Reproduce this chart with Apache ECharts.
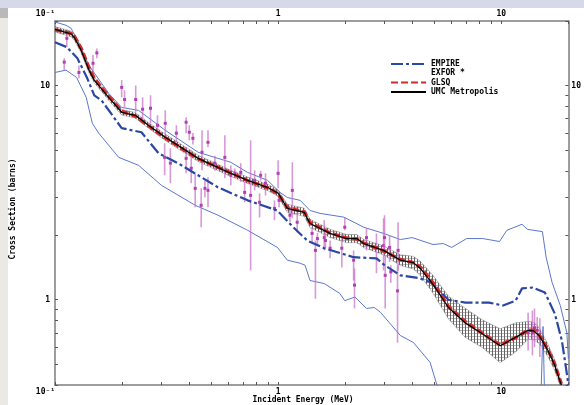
<!DOCTYPE html>
<html>
<head>
<meta charset="utf-8">
<script src="https://cdn.jsdelivr.net/npm/echarts/dist/echarts.min.js"></script>
<style>
html, body { margin: 0; padding: 0; background: #fff; }
#main { width: 584px; height: 405px; }
</style>
</head>
<body>
<div id="main"></div>
<script>
// UMC Metropolis (mean curve + relative uncertainty)
var umcE = [0.1, 0.118, 0.122, 0.131, 0.142, 0.150, 0.174, 0.199, 0.229, 0.262, 0.312, 0.438, 0.60, 0.73, 0.90, 1.0,
  1.10, 1.31, 1.39, 1.71, 2.03, 2.25, 2.42, 2.97, 3.53, 4.04, 4.34, 4.95, 5.8, 6.9, 8.2, 9.9, 11.6, 13.2, 14.0, 14.8,
  16.2, 17.3, 17.9, 18.6];
var umcVal = [18.3, 17.4, 16.8, 14.6, 11.8, 10.6, 8.8, 7.5, 7.26, 6.52, 5.73, 4.57, 3.93, 3.61, 3.34, 3.14,
  2.67, 2.56, 2.27, 2.04, 1.93, 1.93, 1.83, 1.70, 1.53, 1.49, 1.40, 1.18, 0.92, 0.78, 0.696, 0.61, 0.667, 0.72, 0.715, 0.68,
  0.58, 0.50, 0.45, 0.40];
var umcErr = [0.03, 0.03, 0.03, 0.03, 0.03, 0.03, 0.03, 0.03, 0.03, 0.03, 0.035, 0.035, 0.035, 0.035, 0.035, 0.035,
  0.045, 0.045, 0.045, 0.045, 0.045, 0.045, 0.045, 0.05, 0.06, 0.07, 0.08, 0.10, 0.13, 0.17, 0.16, 0.20, 0.17, 0.10, 0.10, 0.09,
  0.07, 0.06, 0.05, 0.04];

// GLSQ
var glsqE = umcE;
var glsqVal = [18.2, 17.5, 17.0, 14.9, 12.1, 10.8, 8.9, 7.6, 7.2, 6.5, 5.7, 4.55, 3.95, 3.6, 3.33, 3.12,
  2.69, 2.57, 2.29, 2.05, 1.94, 1.92, 1.84, 1.69, 1.54, 1.49, 1.42, 1.2, 0.93, 0.79, 0.70, 0.615, 0.665, 0.72, 0.72, 0.685,
  0.585, 0.505, 0.455, 0.405];

// EMPIRE
var empE = [0.1, 0.113, 0.126, 0.139, 0.150, 0.162, 0.199, 0.244, 0.291, 0.357, 0.438, 0.537, 0.73, 0.99, 1.16, 1.35,
  1.61, 2.18, 2.76, 3.0, 3.53, 4.3, 4.8, 5.8, 6.9, 8.8, 10.2, 11.6, 12.4, 13.8, 15.7, 17.4, 18.7, 19.7, 20];
var empVal = [15.9, 15.1, 13.4, 10.9, 9.0, 8.5, 6.32, 6.05, 4.83, 4.33, 3.81, 3.35, 2.91, 2.61, 2.20, 1.89,
  1.74, 1.58, 1.56, 1.45, 1.30, 1.26, 1.21, 1.0, 0.97, 0.97, 0.94, 0.99, 1.13, 1.14, 1.08, 0.86, 0.645, 0.45, 0.40];

// thin envelope lines
var upE = [0.1, 0.112, 0.118, 0.128, 0.142, 0.174, 0.199, 0.237, 0.312, 0.438, 0.614, 0.730, 0.896, 1.02, 1.10, 1.256,
  1.39, 1.54, 1.97, 2.42, 2.97, 3.53, 3.99, 4.95, 5.49, 6.0, 7.0, 8.26, 9.83, 10.6, 12.4, 13.1, 15.3, 15.9, 16.9, 18.4,
  19.7, 20];
var upVal = [19.8, 19.1, 18.5, 15.8, 12.4, 9.2, 7.9, 7.65, 6.18, 4.88, 4.38, 3.93, 3.61, 3.17, 3.0, 2.91,
  2.61, 2.53, 2.43, 2.18, 2.04, 1.91, 1.95, 1.81, 1.83, 1.755, 1.93, 1.93, 1.87, 2.11, 2.25, 2.13, 2.08, 1.58, 1.205, 0.94,
  0.70, 0.53];
var lowE = [0.1, 0.112, 0.125, 0.138, 0.147, 0.157, 0.193, 0.237, 0.300, 0.425, 0.538, 0.730, 0.993, 1.10, 1.256, 1.32,
  1.39, 1.61, 1.89, 1.99, 2.21, 2.49, 2.70, 2.88, 3.53, 4.04, 4.80, 5.15, 5.4, 15.0, 15.4, 15.7];
var lowVal = [11.5, 11.8, 10.9, 8.8, 6.66, 5.99, 4.62, 4.24, 3.42, 2.76, 2.48, 2.11, 1.755, 1.53, 1.48, 1.45,
  1.23, 1.19, 1.07, 0.99, 1.03, 0.911, 0.92, 0.872, 0.681, 0.632, 0.51, 0.40, 0.3, 0.3, 0.75, 0.3];

// EXFOR: [energy, value, low, high]
var exforPts = [
  [0.113, 16.6, 15.1, 17.55], [0.110, 12.85, 11.8, 13.4], [0.128, 11.5, 10.8, 12.4], [0.148, 12.7, 11.2, 13.86],
  [0.154, 14.2, 13.4, 14.9], [0.199, 9.8, 8.8, 10.6], [0.205, 8.6, 7.9, 9.5], [0.230, 8.6, 7.5, 10.0],
  [0.247, 7.75, 6.66, 8.8], [0.268, 7.83, 6.66, 9.0], [0.288, 6.52, 5.86, 7.26], [0.312, 6.66, 5.55, 7.66],
  [0.350, 5.99, 5.43, 6.52], [0.387, 6.74, 5.99, 7.11], [0.400, 6.05, 5.55, 6.52], [0.310, 4.62, 3.81, 5.38],
  [0.329, 4.34, 3.50, 5.09], [0.387, 4.57, 3.89, 5.15], [0.408, 4.11, 3.50, 4.98], [0.415, 5.67, 5.30, 6.00],
  [0.425, 3.31, 2.70, 3.89], [0.456, 4.88, 4.02, 6.18], [0.485, 5.43, 5.15, 6.18], [0.470, 3.31, 3.00, 3.60],
  [0.485, 3.24, 2.70, 3.73], [0.452, 2.76, 2.18, 3.31], [0.521, 4.34, 4.00, 4.70], [0.577, 4.62, 3.69, 5.86],
  [0.614, 3.81, 3.42, 4.24], [0.640, 3.89, 3.70, 4.10], [0.680, 3.93, 3.55, 4.34], [0.708, 3.17, 2.85, 3.55],
  [0.753, 3.07, 1.37, 5.55], [0.785, 3.61, 3.24, 4.02], [0.826, 2.85, 2.42, 3.14], [0.835, 3.81, 3.60, 4.00],
  [0.878, 3.50, 3.07, 3.89], [0.963, 2.67, 2.35, 2.91], [1.00, 3.89, 3.31, 4.48], [1.01, 2.91, 2.70, 3.10],
  [1.13, 2.48, 2.30, 2.70], [1.158, 3.24, 2.40, 4.38], [1.218, 2.30, 2.06, 2.56], [1.42, 2.04, 1.85, 2.18],
  [1.47, 1.70, 1.01, 1.89], [1.50, 1.93, 1.80, 2.05], [1.61, 1.95, 1.70, 2.35], [1.63, 1.89, 1.75, 2.05],
  [1.71, 1.74, 1.56, 1.89], [1.93, 1.74, 1.415, 2.04], [1.99, 2.18, 2.11, 2.42], [2.18, 1.53, 1.23, 1.70],
  [2.20, 1.17, 0.91, 1.40], [2.49, 1.95, 1.70, 2.15], [2.76, 1.755, 1.33, 2.04], [2.97, 1.79, 1.37, 2.40],
  [3.00, 1.95, 1.70, 2.48], [3.02, 1.30, 0.91, 1.60], [3.16, 1.755, 1.50, 2.00], [3.20, 1.35, 1.20, 1.45],
  [3.43, 1.10, 0.63, 1.45], [3.45, 1.70, 1.37, 2.30],
  [13.2, 0.70, 0.58, 0.87], [13.8, 0.70, 0.55, 0.89], [14.1, 0.74, 0.60, 0.91], [14.5, 0.72, 0.645, 0.83],
  [14.9, 0.66, 0.54, 0.82]
];

// axis ticks and labels
var xTicks = [0.1, 0.2, 0.3, 0.4, 0.5, 0.6, 0.7, 0.8, 0.9, 1, 2, 3, 4, 5, 6, 7, 8, 9, 10, 20];
var xLabels = [0.1, 1, 10];
var yTicks = [0.4, 0.5, 0.6, 0.7, 0.8, 0.9, 1, 2, 3, 4, 5, 6, 7, 8, 9, 10, 20];
var yLabels = [1, 10];

var FONT = 'DejaVu Sans Mono';

function pairs(xs, ys) {
  return xs.map(function (x, i) { return [x, ys[i]]; });
}

function tickText(v) {
  if (v < 0.5) return '{m|10\u207B\u00B9}';
  return String(Math.round(v));
}

var labelStyle = {
  fontFamily: FONT, fontSize: 8, fontWeight: 'bold', color: '#000',
  rich: { m: { fontFamily: FONT, fontSize: 8, fontWeight: 'bold', color: '#000', padding: [0, 19, 0, 0] } }
};

function makeAxis(kind, pos) {
  var isX = kind === 'x';
  return {
    type: 'log', logBase: 10, position: pos,
    min: isX ? 0.1 : 0.4, max: 20,
    axisLine: { show: true, onZero: false, lineStyle: { color: '#7d7d7d', width: 1.5 } },
    axisTick: { show: true, inside: true, length: 3, customValues: isX ? xTicks : yTicks,
      lineStyle: { color: '#555', width: 1 } },
    axisLabel: Object.assign({ show: true, margin: isX ? 3 : (pos === 'left' ? 5 : 3),
      customValues: isX ? xLabels : yLabels, formatter: tickText }, labelStyle),
    splitLine: { show: false },
    minorTick: { show: false }
  };
}

var hatch = document.createElement('canvas');
hatch.width = 3; hatch.height = 3;
(function () {
  var g = hatch.getContext('2d');
  g.fillStyle = 'rgba(60,60,60,0.8)';
  g.fillRect(0, 0, 1, 3);
  g.fillStyle = 'rgba(90,90,90,0.45)';
  g.fillRect(1, 0, 2, 1);
})();

var noSymbol = { color: 'rgba(0,0,0,0)', borderColor: 'rgba(0,0,0,0)', borderWidth: 0, opacity: 0 };

var myChart = echarts.init(document.getElementById('main'), null, { renderer: 'canvas' });

myChart.setOption({
  backgroundColor: '#fff',
  animation: false,
  grid: { left: 55, top: 21, right: 10, bottom: 20, containLabel: false },
  xAxis: [makeAxis('x', 'bottom'), makeAxis('x', 'top')],
  yAxis: [makeAxis('y', 'left'), makeAxis('y', 'right')],
  legend: {
    left: 390, top: 60, orient: 'vertical', padding: 0,
    itemWidth: 35, itemHeight: 8, itemGap: 1.3, selectedMode: false,
    itemStyle: noSymbol,
    textStyle: { fontFamily: FONT, fontSize: 8, fontWeight: 'bold', color: '#000', lineHeight: 8 },
    data: [
      { name: 'EMPIRE', itemStyle: noSymbol },
      { name: 'EXFOR *', icon: 'rect', itemStyle: noSymbol },
      { name: 'GLSQ', itemStyle: noSymbol },
      { name: 'UMC Metropolis', itemStyle: noSymbol }
    ]
  },
  graphic: [
    { type: 'rect', shape: { x: 0, y: 0, width: 584, height: 8 }, style: { fill: '#d6d9ea' }, silent: true },
    { type: 'rect', shape: { x: 0, y: 8, width: 8, height: 397 }, style: { fill: '#ebe9e3' }, silent: true },
    { type: 'rect', shape: { x: 0, y: 8, width: 8, height: 10 }, style: { fill: '#b9b9b9' }, silent: true },
    { type: 'text', x: 13, y: 209, rotation: Math.PI / 2, silent: true,
      style: { text: 'Cross Section (barns)', font: 'bold 8px "DejaVu Sans Mono"', fill: '#000',
        align: 'center', verticalAlign: 'middle' } },
    { type: 'text', x: 303, y: 400, silent: true,
      style: { text: 'Incident Energy (MeV)', font: 'bold 8px "DejaVu Sans Mono"', fill: '#000',
        align: 'center', verticalAlign: 'middle' } }
  ],
  series: [
    {
      name: 'upper', type: 'line', data: pairs(upE, upVal), symbol: 'none', z: 1,
      lineStyle: { color: '#5b77cf', width: 1 }
    },
    {
      name: 'lower', type: 'line', data: pairs(lowE, lowVal), symbol: 'none', z: 1,
      lineStyle: { color: '#5b77cf', width: 1 }
    },
    {
      name: 'band', type: 'custom', data: [[1, 1]], encode: { x: 0, y: 1 }, z: 2, silent: true, clip: true,
      renderItem: function (params, api) {
        var pts = [];
        var i;
        for (i = 0; i < umcE.length; i++) pts.push(api.coord([umcE[i], umcVal[i] * (1 + umcErr[i])]));
        for (i = umcE.length - 1; i >= 0; i--) pts.push(api.coord([umcE[i], umcVal[i] / (1 + umcErr[i])]));
        return {
          type: 'polygon', shape: { points: pts },
          style: { fill: { image: hatch, repeat: 'repeat' }, stroke: 'rgba(110,110,110,0.7)', lineWidth: 0.6 }
        };
      }
    },
    {
      name: 'EXFOR *', type: 'custom', data: exforPts, encode: { x: 0, y: 1 }, z: 3, clip: true,
      itemStyle: { color: '#b040b0' },
      renderItem: function (params, api) {
        var p = api.coord([api.value(0), api.value(1)]);
        var lo = api.coord([api.value(0), api.value(2)]);
        var hi = api.coord([api.value(0), api.value(3)]);
        return {
          type: 'group', children: [
            { type: 'line', shape: { x1: lo[0], y1: lo[1], x2: hi[0], y2: hi[1] },
              style: { stroke: 'rgba(200,110,200,0.7)', lineWidth: 1.6 } },
            { type: 'rect', shape: { x: p[0] - 1.5, y: p[1] - 1.5, width: 3, height: 3 },
              style: { fill: '#b040b0' } }
          ]
        };
      }
    },
    {
      name: 'EMPIRE', type: 'line', data: pairs(empE, empVal), symbol: 'none', z: 4,
      itemStyle: { color: '#2a47a3' },
      lineStyle: { color: '#2a47a3', width: 2.2, type: [12, 3, 3, 3], cap: 'butt' }
    },
    {
      name: 'GLSQ', type: 'line', data: pairs(glsqE, glsqVal), symbol: 'none', z: 5,
      itemStyle: { color: '#d42a2a' },
      lineStyle: { color: '#d42a2a', width: 3.5, type: [7, 3] }
    },
    {
      name: 'UMC Metropolis', type: 'line', data: pairs(umcE, umcVal), symbol: 'none', z: 6,
      itemStyle: { color: '#000' },
      lineStyle: { color: '#000', width: 1.3 }
    }
  ]
});
</script>
</body>
</html>
